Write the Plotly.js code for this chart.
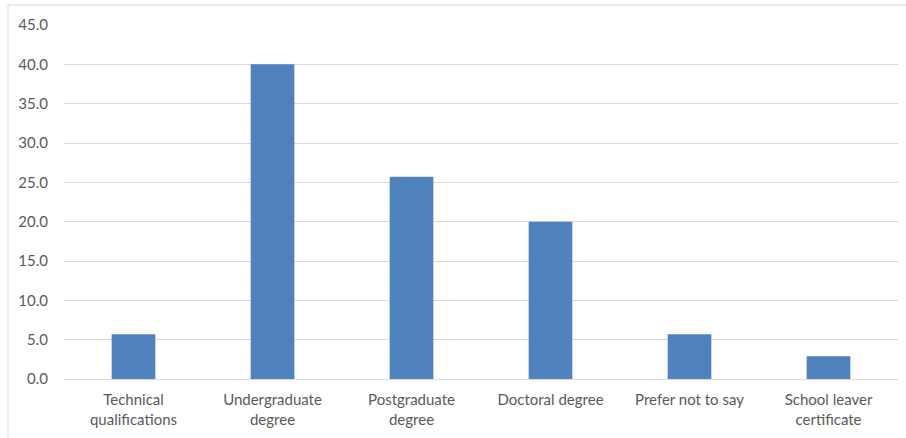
<!DOCTYPE html>
<html>
<head>
<meta charset="utf-8">
<script src="https://cdn.plot.ly/plotly-3.0.1.min.js"></script>
<style>
  html, body { margin: 0; padding: 0; background: #fff; }
  #chart { width: 906px; height: 438px; }
</style>
</head>
<body>
<div id="chart"></div>
<script>
// Highest qualification, percentage of respondents
const categories = [
  'Technical<br>qualifications',
  'Undergraduate<br>degree',
  'Postgraduate<br>degree',
  'Doctoral degree',
  'Prefer not to say',
  'School leaver<br>certificate'
];
const percentages = [5.7, 40.0, 25.7, 20.0, 5.7, 2.9];
const yTicks = [0, 5, 10, 15, 20, 25, 30, 35, 40, 45];

const textFont = { family: 'Lato, "Open Sans", sans-serif', size: 15, color: '#595959' };

const trace = {
  type: 'bar',
  x: categories,
  y: percentages,
  marker: { color: '#4f81bd' },
  hoverinfo: 'x+y'
};

const layout = {
  width: 906,
  height: 438,
  margin: { l: 64, r: 8, t: 25, b: 59 },
  paper_bgcolor: '#ffffff',
  plot_bgcolor: '#ffffff',
  bargap: 0.686,
  showlegend: false,
  font: textFont,
  xaxis: {
    type: 'category',
    showgrid: false,
    showline: false,
    zeroline: false,
    ticks: 'outside',
    ticklen: 7,
    tickcolor: 'rgba(0,0,0,0)',
    tickfont: textFont
  },
  yaxis: {
    range: [0, 45],
    tickvals: yTicks,
    ticktext: yTicks.map(v => v.toFixed(1)),
    showgrid: true,
    gridcolor: '#d9d9d9',
    gridwidth: 1,
    zeroline: true,
    zerolinecolor: '#d9d9d9',
    zerolinewidth: 1,
    showline: false,
    ticks: 'outside',
    ticklen: 12,
    tickcolor: 'rgba(0,0,0,0)',
    tickfont: textFont
  },
  shapes: [{
    type: 'rect',
    xref: 'paper', yref: 'paper',
    x0: -0.0671, x1: 1.2,
    y0: -0.4, y1: 1.0565,
    line: { color: '#d9d9d9', width: 1 },
    fillcolor: 'rgba(0,0,0,0)',
    layer: 'below'
  }]
};

Plotly.newPlot('chart', [trace], layout, { displayModeBar: false, staticPlot: true });
</script>
</body>
</html>
